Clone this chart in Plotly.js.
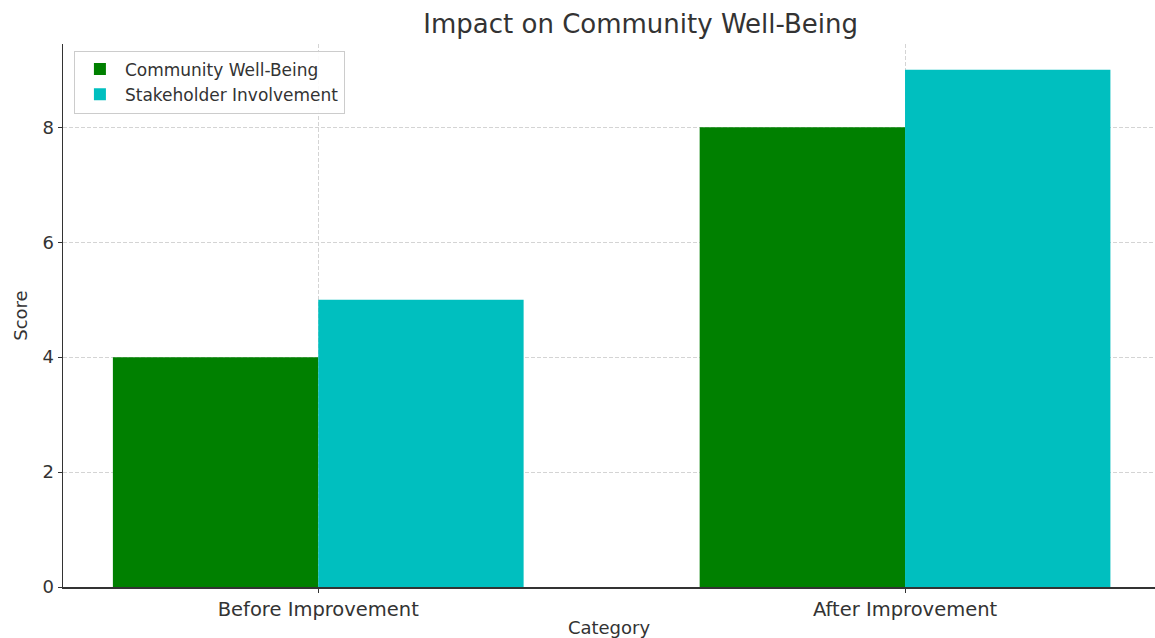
<!DOCTYPE html>
<html>
<head>
<meta charset="utf-8">
<script src="https://cdn.plot.ly/plotly-3.0.1.min.js"></script>
<style>html,body{margin:0;padding:0;background:#fff;}#chart{width:1155px;height:638px;}</style>
</head>
<body>
<div id="chart"></div>
<script>
const categories = ["Before Improvement", "After Improvement"];
const communityWellBeing = [4, 8];
const stakeholderInvolvement = [5, 9];
const seriesNames = ["Community Well-Being", "Stakeholder Involvement"];
const yTicks = [0, 2, 4, 6, 8];

const font = "DejaVu Sans, sans-serif";
const textColor = "#333333";

const traces = [
  {
    type: "bar", name: seriesNames[0], x: categories, y: communityWellBeing,
    offset: -0.35, width: 0.35, marker: {color: "#008000", line: {width: 0}},
    hoverinfo: "skip"
  },
  {
    type: "bar", name: seriesNames[1], x: categories, y: stakeholderInvolvement,
    offset: 0, width: 0.35, marker: {color: "#00BFBF", line: {width: 0}},
    hoverinfo: "skip"
  }
];

const layout = {
  width: 1155, height: 638,
  margin: {l: 63, r: 0, t: 44, b: 51, pad: 0},
  paper_bgcolor: "#ffffff", plot_bgcolor: "#ffffff",
  barmode: "overlay",
  font: {family: font, color: textColor, size: 16},
  title: {
    text: "Impact on Community Well-Being",
    font: {family: font, size: 26, color: textColor},
    x: 0.529, xanchor: "center", xref: "paper",
    y: 0.963, yanchor: "middle", yref: "container"
  },
  xaxis: {
    type: "category",
    range: [-0.435, 1.426],
    showline: true, linecolor: "#333333", linewidth: 1.5,
    showgrid: true, gridcolor: "#d4d4d4", griddash: "4px,2px", gridwidth: 1,
    ticks: "outside", ticklen: 4, tickcolor: "#333333",
    tickfont: {family: font, size: 19.5, color: textColor},
    title: {text: "Category", font: {family: font, size: 18, color: textColor}, standoff: 4},
    zeroline: false, fixedrange: true
  },
  yaxis: {
    range: [0, 9.45],
    tickvals: yTicks,
    ticktext: yTicks.map(String),
    showline: true, linecolor: "#333333", linewidth: 1.5,
    showgrid: true, gridcolor: "#d4d4d4", griddash: "4px,2px", gridwidth: 1,
    ticks: "outside", ticklen: 4, tickcolor: "#333333",
    tickfont: {family: font, size: 18, color: textColor},
    title: {text: "Score", font: {family: font, size: 18, color: textColor}, standoff: 10},
    zeroline: false, fixedrange: true
  },
  showlegend: true,
  legend: {
    x: 0.01, y: 0.988, xanchor: "left", yanchor: "top",
    bgcolor: "rgba(255,255,255,0.9)", bordercolor: "#cccccc", borderwidth: 1,
    font: {family: font, size: 17, color: textColor},
    itemwidth: 40, tracegroupgap: 0
  }
};

Plotly.newPlot("chart", traces, layout, {displayModeBar: false, staticPlot: true});
</script>
</body>
</html>
